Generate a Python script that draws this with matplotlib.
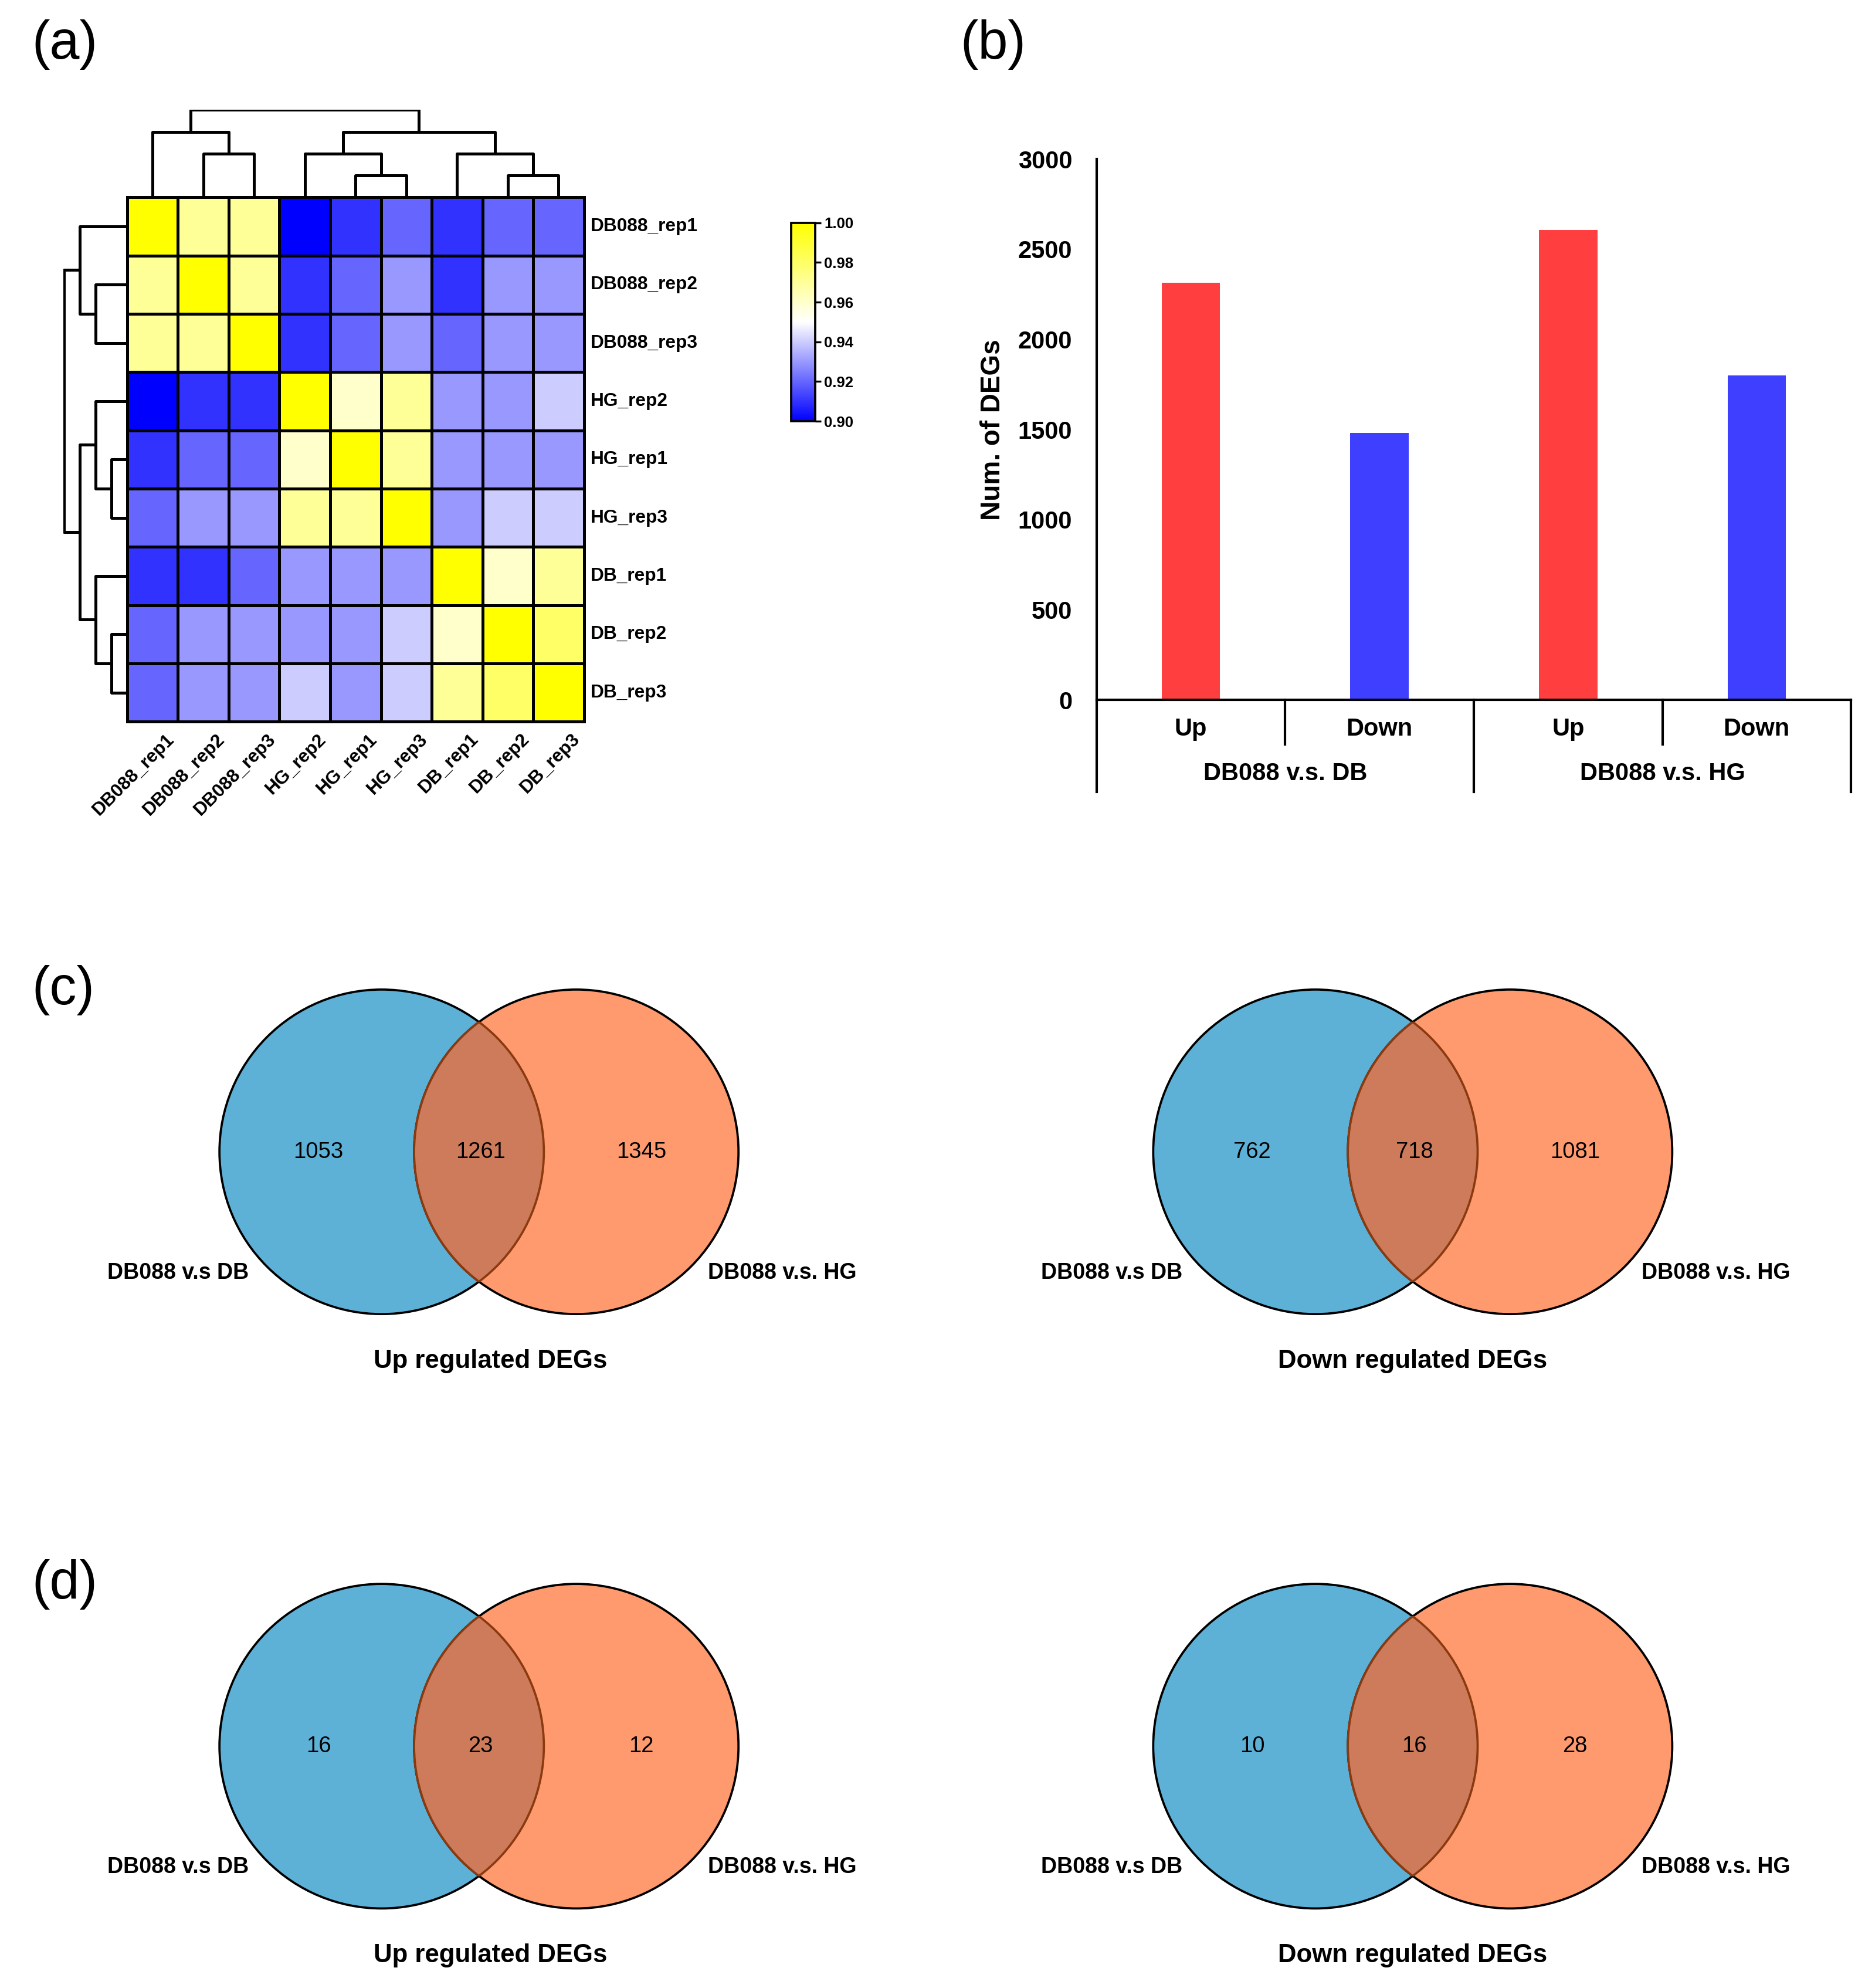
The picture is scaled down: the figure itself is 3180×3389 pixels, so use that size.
import matplotlib
matplotlib.use('Agg')
import matplotlib.pyplot as plt
from matplotlib.colors import LinearSegmentedColormap
from matplotlib.patches import Circle
import matplotlib.transforms as mtransforms
import numpy as np

plt.rcParams['font.family'] = ['Liberation Sans', 'DejaVu Sans']

# ---- data ----
samples = ['DB088_rep1', 'DB088_rep2', 'DB088_rep3', 'HG_rep2', 'HG_rep1',
           'HG_rep3', 'DB_rep1', 'DB_rep2', 'DB_rep3']
corr = np.array([
    [1.00, 0.97, 0.97, 0.90, 0.91, 0.92, 0.91, 0.92, 0.92],
    [0.97, 1.00, 0.97, 0.91, 0.92, 0.93, 0.91, 0.93, 0.93],
    [0.97, 0.97, 1.00, 0.91, 0.92, 0.93, 0.92, 0.93, 0.93],
    [0.90, 0.91, 0.91, 1.00, 0.96, 0.97, 0.93, 0.93, 0.94],
    [0.91, 0.92, 0.92, 0.96, 1.00, 0.97, 0.93, 0.93, 0.93],
    [0.92, 0.93, 0.93, 0.97, 0.97, 1.00, 0.93, 0.94, 0.94],
    [0.91, 0.91, 0.92, 0.93, 0.93, 0.93, 1.00, 0.96, 0.97],
    [0.92, 0.93, 0.93, 0.93, 0.93, 0.94, 0.96, 1.00, 0.98],
    [0.92, 0.93, 0.93, 0.94, 0.93, 0.94, 0.97, 0.98, 1.00],
])
# dendrogram: (height, left, right), leaves are indexes in samples order
tree = (4, (3, 0, (2, 1, 2)), (3, (2, 3, (1, 4, 5)), (2, 6, (1, 7, 8))))

bar_groups = ['DB088 v.s. DB', 'DB088 v.s. HG']
bar_subs = ['Up', 'Down', 'Up', 'Down']
bar_values = [2314, 1480, 2606, 1799]
bar_colors = ['#FF3F3F', '#3F3FFF', '#FF3F3F', '#3F3FFF']

venn_sets = ['DB088 v.s DB', 'DB088 v.s. HG']
venn_c_up = [1053, 1261, 1345]
venn_c_down = [762, 718, 1081]
venn_d_up = [16, 23, 12]
venn_d_down = [10, 16, 28]
venn_titles = ['Up regulated DEGs', 'Down regulated DEGs']

# ---- figure ----
W, H = 1466.0, 1562.0   # layout reference units
fig = plt.figure(figsize=(10.6, 11.2967), dpi=300)


def rect(x0, y0, x1, y1):
    return [x0 / W, 1 - y1 / H, (x1 - x0) / W, (y1 - y0) / H]


def draw_tree(ax, node, orient):
    if not isinstance(node, tuple):
        return node + 0.5, 0
    h, l, r = node
    xl, hl = draw_tree(ax, l, orient)
    xr, hr = draw_tree(ax, r, orient)
    xs = [xl, xl, xr, xr]
    ys = [hl, h, h, hr]
    if orient == 'top':
        ax.plot(xs, ys, color='k', lw=1.2, solid_capstyle='butt')
    else:
        ax.plot(ys, xs, color='k', lw=1.2, solid_capstyle='butt')
    return (xl + xr) / 2, h


fig.text(25 / W, 1 - 35 / H, '(a)', fontsize=22, va='center', ha='left')
fig.text(755 / W, 1 - 35 / H, '(b)', fontsize=22, va='center', ha='left')
fig.text(25 / W, 1 - 778 / H, '(c)', fontsize=22, va='center', ha='left')
fig.text(25 / W, 1 - 1245 / H, '(d)', fontsize=22, va='center', ha='left')

# heatmap
cmap = LinearSegmentedColormap.from_list('bwy', ['#0000FF', '#FFFFFF', '#FFFF00'])
n = len(samples)
axh = fig.add_axes(rect(100, 155, 459, 567))
mesh = axh.pcolormesh(np.arange(n + 1), np.arange(n + 1), corr, cmap=cmap,
                      vmin=0.90, vmax=1.00, edgecolors='k', linewidth=1.2)
axh.set_xlim(0, n)
axh.set_ylim(n, 0)
for s in axh.spines.values():
    s.set_linewidth(1.2)
axh.set_xticks([])
axh.set_yticks([])
for i, name in enumerate(samples):
    axh.text(n + 0.13, i + 0.5, name, ha='left', va='center', fontsize=7.6,
             fontweight='bold')
    axh.text(i + 0.75, n + 0.15, name, ha='right', va='top', rotation=45,
             rotation_mode='anchor', fontsize=7.6, fontweight='bold')

axt = fig.add_axes(rect(100, 86, 459, 155))
draw_tree(axt, tree, 'top')
axt.set_xlim(0, n)
axt.set_ylim(0, 4.02)
axt.axis('off')

axl = fig.add_axes(rect(50, 155, 100, 567))
draw_tree(axl, tree, 'left')
axl.set_ylim(n, 0)
axl.set_xlim(4.02, 0)
axl.axis('off')

cax = fig.add_axes(rect(622, 175, 641, 331))
cb = fig.colorbar(mesh, cax=cax, ticks=[0.90, 0.92, 0.94, 0.96, 0.98, 1.00])
cb.ax.set_yticklabels(['0.90', '0.92', '0.94', '0.96', '0.98', '1.00'],
                      fontsize=6.2, fontweight='bold')
cb.ax.tick_params(length=2.5, width=0.8, pad=1)
cb.outline.set_linewidth(0.9)

# bar chart
axb = fig.add_axes(rect(862, 125, 1455, 550))
x = np.arange(len(bar_values))
axb.bar(x, bar_values, width=0.31, color=bar_colors)
axb.set_xlim(-0.5, 3.5)
axb.set_ylim(0, 3000)
axb.set_yticks(range(0, 3001, 500))
axb.set_xticks([])
axb.tick_params(axis='y', length=0, pad=10, labelsize=10)
for lab in axb.get_yticklabels():
    lab.set_fontweight('bold')
axb.spines['top'].set_visible(False)
axb.spines['right'].set_visible(False)
axb.spines['left'].set_linewidth(1.0)
axb.spines['bottom'].set_linewidth(1.0)
axb.set_ylabel('Num. of DEGs', fontsize=11, fontweight='bold', labelpad=5)
trans = mtransforms.blended_transform_factory(axb.transData, axb.transAxes)
for xv, depth in [(-0.5, -0.17), (0.5, -0.082), (1.5, -0.17), (2.5, -0.082), (3.5, -0.17)]:
    axb.plot([xv, xv], [0, depth], color='k', lw=1.0, transform=trans, clip_on=False)
for xi, lab in zip(x, bar_subs):
    axb.text(xi, -0.054, lab, transform=trans, ha='center', va='center',
             fontsize=10, fontweight='bold')
for gi, lab in enumerate(bar_groups):
    axb.text(2 * gi + 0.5, -0.136, lab, transform=trans, ha='center',
             va='center', fontsize=10, fontweight='bold')


# venn diagrams
def venn(cx, cy, counts, title, title_dx):
    u = 127.5
    ax = fig.add_axes(rect(cx - 2.6 * u, cy - 1.2 * u, cx + 2.6 * u, cy + 1.6 * u))
    ax.set_xlim(-2.6, 2.6)
    ax.set_ylim(-1.6, 1.2)
    ax.axis('off')
    c1 = Circle((-0.6, 0), 1, facecolor='#5DB1D7', edgecolor='k', lw=0.9, zorder=1)
    c2 = Circle((0.6, 0), 1, facecolor='#FE9A6E', edgecolor='k', lw=0.9, zorder=1)
    ax.add_patch(c1)
    ax.add_patch(c2)
    lens1 = Circle((0.6, 0), 1, facecolor='#CE7B5C', edgecolor='#8B3A0F', lw=0.9, zorder=2)
    ax.add_patch(lens1)
    lens1.set_clip_path(c1)
    lens2 = Circle((-0.6, 0), 1, facecolor='none', edgecolor='#8B3A0F', lw=0.9, zorder=3)
    ax.add_patch(lens2)
    lens2.set_clip_path(c2)
    for xv, v in zip([-0.99, 0.01, 1.0], counts):
        ax.text(xv, 0, str(v), ha='center', va='center', fontsize=9.2, zorder=4)
    ax.text(-1.855, -0.745, venn_sets[0], ha='center', va='center', fontsize=9,
            fontweight='bold')
    ax.text(1.87, -0.745, venn_sets[1], ha='center', va='center', fontsize=9,
            fontweight='bold')
    ax.text(title_dx, -1.29, title, ha='center', va='center', fontsize=10.5,
            fontweight='bold')


venn(376.5, 905, venn_c_up, venn_titles[0], 0.07)
venn(1110.5, 905, venn_c_down, venn_titles[1], 0.0)
venn(376.5, 1372, venn_d_up, venn_titles[0], 0.07)
venn(1110.5, 1372, venn_d_down, venn_titles[1], 0.0)

fig.savefig('out.png', dpi=300)
